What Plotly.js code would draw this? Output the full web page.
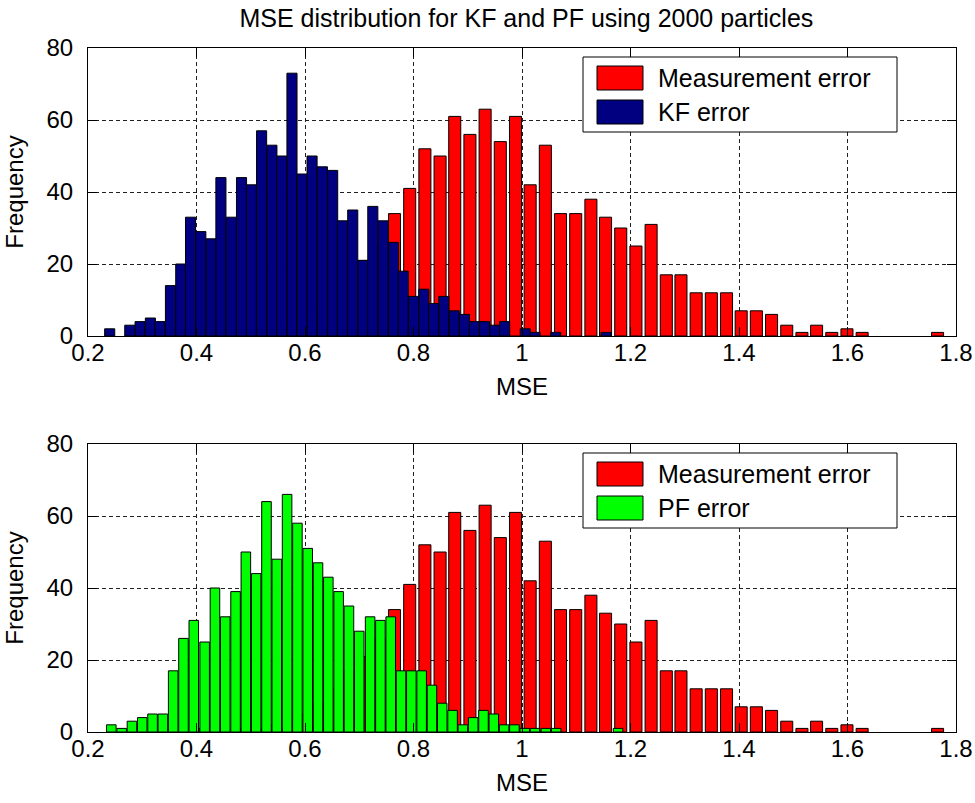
<!DOCTYPE html>
<html><head><meta charset="utf-8">
<script src="https://cdn.plot.ly/plotly-3.0.1.min.js"></script>
<style>html,body{margin:0;padding:0;background:#fff}</style>
</head><body><div id="chart" style="width:975px;height:803px"></div>
<script>
// Measurement error histogram (same in both panels)
const measCenters = [0.404,0.432,0.460,0.487,0.515,0.543,0.571,0.599,0.626,0.654,
  0.682,0.710,0.738,0.765,0.793,0.821,0.849,0.876,0.904,0.932,
  0.960,0.988,1.015,1.043,1.071,1.099,1.127,1.154,1.182,1.210,
  1.238,1.266,1.293,1.321,1.349,1.377,1.404,1.432,1.460,1.488,
  1.516,1.543,1.571,1.599,1.627,1.655,1.682,1.710,1.738,1.766];
const measCounts = [1,0,0,1,1,2,3,5,8,12,
  17,21,26,34,41,52,50,61,56,63,
  54,61,42,53,34,34,38,33,30,25,
  31,17,17,12,12,12,7,7,6,3,
  1,3,1,2,1,0,0,0,0,1];
// KF error histogram
const kfCenters = [0.240,0.259,0.277,0.296,0.315,0.333,0.352,0.371,0.389,0.408,
  0.427,0.445,0.464,0.483,0.501,0.520,0.539,0.557,0.576,0.595,
  0.613,0.632,0.651,0.669,0.688,0.707,0.725,0.744,0.763,0.781,
  0.800,0.819,0.837,0.856,0.875,0.894,0.912,0.931,0.950,0.968,
  0.987,1.006,1.024,1.043,1.062,1.080,1.099,1.118,1.136,1.155];
const kfCounts = [2,0,3,4,5,4,14,20,33,29,
  27,44,33,44,42,57,53,50,73,45,
  50,47,46,32,35,21,36,32,26,18,
  11,13,9,11,7,6,4,4,3,4,
  0,2,1,0,1,0,0,0,0,1];
// PF error histogram
const pfCenters = [0.243,0.262,0.281,0.300,0.319,0.338,0.357,0.376,0.395,0.415,
  0.434,0.453,0.472,0.491,0.510,0.529,0.548,0.567,0.586,0.605,
  0.624,0.643,0.662,0.681,0.700,0.720,0.739,0.758,0.777,0.796,
  0.815,0.834,0.853,0.872,0.891,0.910,0.929,0.948,0.967,0.986,
  1.005,1.024,1.044,1.063,1.082,1.101,1.120,1.139,1.158,1.177];
const pfCounts = [2,1,3,4,5,5,17,26,31,25,
  40,32,39,50,44,64,48,66,58,51,
  47,43,39,35,28,32,31,32,17,17,
  17,13,8,6,2,4,6,5,2,2,
  1,1,1,1,0,0,0,0,0,1];
const xTickVals = [0.2,0.4,0.6,0.8,1.0,1.2,1.4,1.6,1.8];
const xTickText = ['0.2','0.4','0.6','0.8','1','1.2','1.4','1.6','1.8'];
const yTickVals = [0,20,40,60,80];
const seriesNames = ['Measurement error','KF error','PF error'];
const seriesColors = ['#FF0000','#000080','#00FF00'];
const titleText = 'MSE distribution for KF and PF using 2000 particles';

const FONT = 'Liberation Sans, Arial, sans-serif';
const W = 975, H = 803, ML = 88, MR = 19, MT = 48, MB = 71;
const pw = W - ML - MR, ph = H - MT - MB;
const px2x = p => (p - ML) / pw;
const py2y = p => (H - MB - p) / ph;

function barTrace(x, y, w, color, name, xa, ya) {
  return {type:'bar', x:x, y:y, width:w, name:name, xaxis:xa, yaxis:ya,
    marker:{color:color, line:{color:'#000', width:y.map(v => v > 0 ? 1 : 0)}}, showlegend:false,
    hoverinfo:'x+y'};
}
const data = [
  barTrace(measCenters, measCounts, 0.0222, seriesColors[0], seriesNames[0], 'x', 'y'),
  barTrace(kfCenters, kfCounts, 0.0186, seriesColors[1], seriesNames[1], 'x', 'y'),
  barTrace(measCenters, measCounts, 0.0222, seriesColors[0], seriesNames[0], 'x2', 'y2'),
  barTrace(pfCenters, pfCounts, 0.0176, seriesColors[2], seriesNames[2], 'x2', 'y2')
];

function xAxis(anchor) {
  return {range:[0.2,1.8], anchor:anchor, domain:[0,1], tickvals:xTickVals, ticktext:xTickText,
    ticks:'inside', ticklen:9, tickcolor:'#000', showline:true, linecolor:'#000', linewidth:1,
    mirror:'ticks', showgrid:true, gridcolor:'#202020', griddash:'4px,3px', gridwidth:1,
    zeroline:false, tickfont:{family:FONT, size:24, color:'#000'}, ticklabelstandoff:-5,
    title:{text:'MSE', font:{family:FONT, size:24, color:'#000'}, standoff:13}, fixedrange:true};
}
function yAxis(anchor, dom) {
  return {range:[0,80], anchor:anchor, domain:dom, tickvals:yTickVals,
    ticks:'inside', ticklen:9, tickcolor:'#000', showline:true, linecolor:'#000', linewidth:1,
    mirror:'ticks', showgrid:true, gridcolor:'#202020', griddash:'4px,3px', gridwidth:1,
    zeroline:false, tickfont:{family:FONT, size:24, color:'#000'}, ticklabelstandoff:9,
    title:{text:'Frequency', font:{family:FONT, size:24, color:'#000'}, standoff:16}, fixedrange:true};
}

// custom MATLAB-style legend boxes
const shapes = [], annotations = [];
function legend(offsetY, names, colors) {
  shapes.push({type:'rect', xref:'paper', yref:'paper', x0:px2x(583), x1:px2x(897),
    y0:py2y(57+offsetY), y1:py2y(132+offsetY), fillcolor:'#fff', line:{color:'#000', width:1}});
  names.forEach((n, i) => {
    const cy = 78 + i*34 + offsetY;
    shapes.push({type:'rect', xref:'paper', yref:'paper', x0:px2x(597), x1:px2x(643),
      y0:py2y(cy+12), y1:py2y(cy-12), fillcolor:colors[i], line:{color:'#000', width:1}});
    annotations.push({xref:'paper', yref:'paper', x:px2x(656), y:py2y(cy), text:n,
      showarrow:false, xanchor:'left', yanchor:'middle',
      font:{family:FONT, size:25, color:'#000'}});
  });
}
legend(0, [seriesNames[0], seriesNames[1]], [seriesColors[0], seriesColors[1]]);
legend(396, [seriesNames[0], seriesNames[2]], [seriesColors[0], seriesColors[2]]);

const layout = {
  width:W, height:H, margin:{l:ML, r:MR, t:MT, b:MB, pad:0},
  paper_bgcolor:'#fff', plot_bgcolor:'#fff', barmode:'overlay', bargap:0,
  showlegend:false,
  title:{text:titleText, font:{family:FONT, size:25, color:'#000'}, xref:'paper', x:0.505,
    xanchor:'center', yref:'container', y:1-18/H, yanchor:'middle'},
  xaxis:xAxis('y'), yaxis:yAxis('x', [1-288/ph, 1]),
  xaxis2:xAxis('y2'), yaxis2:yAxis('x2', [0, 288/ph]),
  shapes:shapes, annotations:annotations
};
Plotly.newPlot('chart', data, layout, {displayModeBar:false, staticPlot:true});
</script>
</body></html>
